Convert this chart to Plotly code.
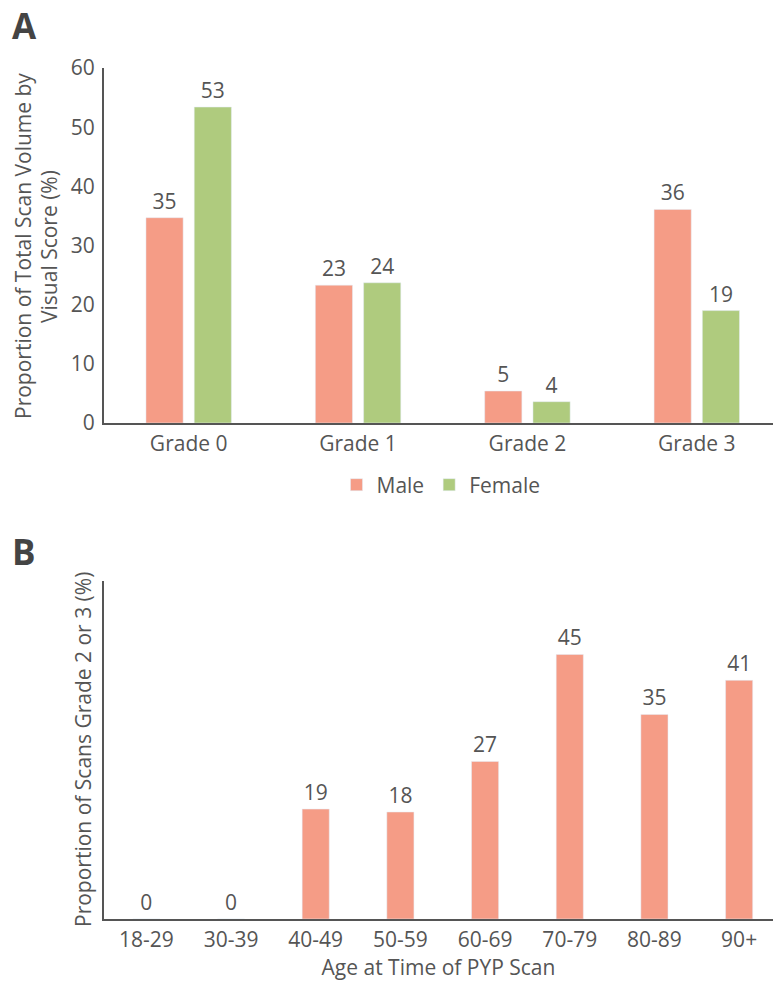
import plotly.graph_objects as go
from plotly.subplots import make_subplots

# Panel A data
grades = ["Grade 0", "Grade 1", "Grade 2", "Grade 3"]
male_pct = [34.7, 23.3, 5.4, 36.1]
female_pct = [53.4, 23.7, 3.6, 19.0]

# Panel B data
age_groups = ["18-29", "30-39", "40-49", "50-59", "60-69", "70-79", "80-89", "90+"]
grade23_pct = [0, 0, 18.7, 18.2, 26.8, 45.0, 34.8, 40.6]

W, H = 773, 988
L = 104
PW = W - L

MALE = "#F59C86"
FEMALE = "#AFCB7E"
TXT = "#555555"
FONT = "Open Sans"
FS = 21

def py(px):
    return 1 - px / H

def pxx(px):
    return (px - L) / PW

fig = make_subplots(rows=2, cols=1)

fig.add_trace(go.Bar(x=grades, y=male_pct, name="Male", marker_color=MALE,
                     text=male_pct, texttemplate="%{y:.0f}", textposition="outside",
                     textfont=dict(size=21, color=TXT), cliponaxis=False), row=1, col=1)
fig.add_trace(go.Bar(x=grades, y=female_pct, name="Female", marker_color=FEMALE,
                     text=female_pct, texttemplate="%{y:.0f}", textposition="outside",
                     textfont=dict(size=21, color=TXT), cliponaxis=False), row=1, col=1)
fig.add_trace(go.Bar(x=age_groups, y=grade23_pct, name="Grade 2 or 3", marker_color=MALE,
                     width=0.32, showlegend=False,
                     text=grade23_pct, texttemplate="%{y:.0f}", textposition="outside",
                     textfont=dict(size=21, color=TXT), cliponaxis=False), row=2, col=1)

axis_common = dict(showline=True, linecolor=TXT, linewidth=2, showgrid=False,
                   zeroline=False, ticks="", automargin=False,
                   tickfont=dict(size=FS, color=TXT, family=FONT))

fig.update_layout(
    width=W, height=H,
    margin=dict(l=L, r=0, t=0, b=0, autoexpand=False),
    plot_bgcolor="white", paper_bgcolor="white",
    font=dict(family=FONT, color=TXT, size=FS),
    barmode="group", bargap=0.43, bargroupgap=0.23,
    xaxis=dict(domain=[0, 1], range=[-0.5, 3.45], **axis_common, ticklabelstandoff=1),
    yaxis=dict(domain=[py(423), py(68)], range=[0, 60], dtick=10, **axis_common,
               ticklabelstandoff=3),
    xaxis2=dict(domain=[0, 1], range=[-0.5, 7.4], **axis_common, ticklabelstandoff=1,
                title=dict(text="Age at Time of PYP Scan", font=dict(size=FS, color=TXT),
                           standoff=6)),
    yaxis2=dict(domain=[py(919), py(581)], range=[0, 57.5], **axis_common,
                showticklabels=False),
    legend=dict(orientation="h", x=pxx(441), xanchor="center", y=py(485), yanchor="middle",
                font=dict(size=FS, color=TXT), traceorder="normal"),
    annotations=[
        dict(text="<b>A</b>", x=pxx(24), y=py(25), xref="paper", yref="paper",
             xanchor="center", yanchor="middle",
             showarrow=False, font=dict(size=35, color="#444444")),
        dict(text="<b>B</b>", x=pxx(24), y=py(551), xref="paper", yref="paper",
             xanchor="center", yanchor="middle",
             showarrow=False, font=dict(size=35, color="#444444")),
        dict(text="Proportion of Total Scan Volume by", x=pxx(23), y=py(246),
             xref="paper", yref="paper", textangle=-90, showarrow=False,
             xanchor="center", yanchor="middle",
             font=dict(size=FS, color=TXT)),
        dict(text="Visual Score (%)", x=pxx(49), y=py(246),
             xref="paper", yref="paper", textangle=-90, showarrow=False,
             xanchor="center", yanchor="middle",
             font=dict(size=FS, color=TXT)),
        dict(text="Proportion of Scans Grade 2 or 3 (%)", x=pxx(83), y=py(750),
             xref="paper", yref="paper", textangle=-90, showarrow=False,
             xanchor="center", yanchor="middle",
             font=dict(size=FS, color=TXT)),
    ],
)

fig.write_html("out.html", config={"displayModeBar": False},
               post_script="document.body.style.margin='0';document.body.style.overflow='hidden';")
